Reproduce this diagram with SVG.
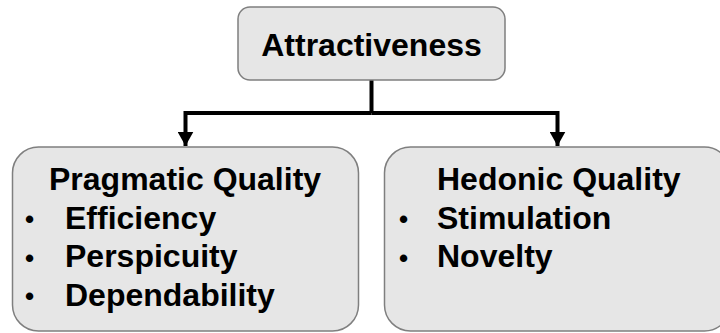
<svg xmlns="http://www.w3.org/2000/svg" width="720" height="333" viewBox="0 0 720 333">
<style>
.box{fill:#e6e6e6;stroke:#7f7f7f;stroke-width:1.5}
.t{font-family:"Liberation Sans",Arial,sans-serif;font-weight:bold;font-size:32px;fill:#000}
.b{font-family:"Liberation Sans",Arial,sans-serif;font-weight:bold;font-size:26px;fill:#000}
.c{fill:none;stroke:#000;stroke-width:4}
</style>
<defs>
<marker id="ah" markerWidth="4" markerHeight="4" refX="3.6" refY="2" orient="auto" markerUnits="strokeWidth" viewBox="0 0 4 4">
<path d="M0,0 L3.6,2 L0,4 Z" fill="#000"/>
</marker>
</defs>
<g id="connectors">
<path class="c" d="M371.5,80 V113"/>
<path class="c" d="M371.5,113 H185.5 V146" marker-end="url(#ah)"/>
<path class="c" d="M371.5,113 H557.5 V146" marker-end="url(#ah)"/>
</g>
<g id="attractiveness">
<rect class="box" x="238" y="7" width="267" height="73" rx="12"/>
<text class="t" x="371.5" y="56" text-anchor="middle">Attractiveness</text>
</g>
<g id="pragmatic">
<rect class="box" x="12.5" y="147" width="346" height="184" rx="26"/>
<text class="t" x="49" y="190">Pragmatic Quality</text>
<text class="b" x="25" y="228">•</text>
<text class="t" x="65" y="228.5">Efficiency</text>
<text class="b" x="25" y="267">•</text>
<text class="t" x="65" y="267">Perspicuity</text>
<text class="b" x="25" y="305">•</text>
<text class="t" x="65" y="305.5">Dependability</text>
</g>
<g id="hedonic">
<rect class="box" x="384.5" y="147" width="346" height="184" rx="26"/>
<text class="t" x="437" y="190">Hedonic Quality</text>
<text class="b" x="399" y="228">•</text>
<text class="t" x="437" y="228.5">Stimulation</text>
<text class="b" x="399" y="267">•</text>
<text class="t" x="437" y="267">Novelty</text>
</g>
</svg>
